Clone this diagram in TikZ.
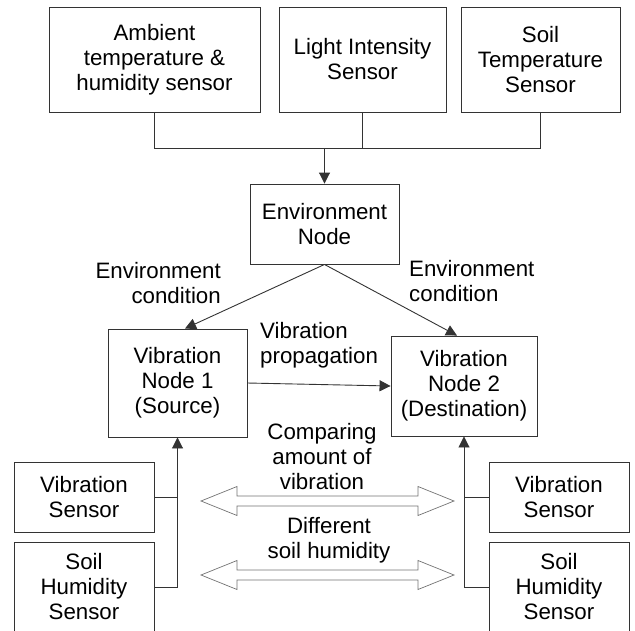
\documentclass[tikz,border=0pt]{standalone}
\usepackage{fontspec}
\setmainfont{Liberation Sans}
\usetikzlibrary{arrows.meta,calc}
\begin{document}
\begin{tikzpicture}[x=1pt,y=-1pt,
  txt/.style={font=\fontsize{22.3}{25}\selectfont},
  box/.style={txt,draw=black!80,line width=0.9pt,align=center,inner sep=0pt},
  lbl/.style={txt,inner sep=0pt},
  conn/.style={draw=black!80,line width=0.9pt},
  arr/.style={conn,-{Triangle[length=11pt,width=11pt]}},
  dbl/.style={draw=black!55,line width=0.7pt,fill=white}]
\useasboundingbox (0,0) rectangle (635,630);
% top sensors
\node[box,minimum width=211pt,minimum height=105pt] (A) at (154.5,59.5) {Ambient\\temperature \&\\humidity sensor};
\node[box,minimum width=167pt,minimum height=105pt] (L) at (362.5,59.5) {Light Intensity\\Sensor};
\node[box,minimum width=159pt,minimum height=105pt] (S) at (540.5,59.5) {Soil\\Temperature\\Sensor};
% environment node
\node[box,minimum width=149pt,minimum height=80pt] (E) at (324.5,224) {Environment\\Node};
% vibration nodes
\node[box,minimum width=139pt,minimum height=108pt] (V1) at (177.5,383) {Vibration\\Node 1\\(Source)};
\node[box,minimum width=146pt,minimum height=100pt] (V2) at (464,386) {Vibration\\Node 2\\(Destination)};
% bottom sensors
\node[box,minimum width=140pt,minimum height=70pt] (VS1) at (84,497) {Vibration\\Sensor};
\node[box,minimum width=140pt,minimum height=90pt] (SH1) at (84,587) {Soil\\Humidity\\Sensor};
\node[box,minimum width=140pt,minimum height=70pt] (VS2) at (559,497) {Vibration\\Sensor};
\node[box,minimum width=140pt,minimum height=90pt] (SH2) at (559,587) {Soil\\Humidity\\Sensor};
% top connectors
\coordinate (j) at (324.5,148);
\draw[conn] (A.south) -- (A.south |- j) -- (S.south |- j) -- (S.south);
\draw[conn] (L.south) -- (L.south |- j);
\draw[arr] (j) -- (E.north);
% environment to vibration nodes
\draw[arr] (E.south) -- ([xshift=7.5pt]V1.north);
\draw[arr] (E.south) -- ([xshift=-7pt]V2.north);
\draw[arr] (V1.east) -- (V2.west);
% bottom connectors
\draw[arr] (SH1.east) -| (V1.south);
\draw[conn] (VS1.east) -- (VS1.east -| V1.south);
\draw[arr] (SH2.west) -| (V2.south);
\draw[conn] (VS2.west) -- (VS2.west -| V2.south);
% double arrows
\foreach \c in {501,575}{
  \draw[dbl] (201,\c) -- (237,\c-14.5) -- (237,\c-5) -- (418,\c-5) -- (418,\c-14.5)
    -- (454,\c) -- (418,\c+14.5) -- (418,\c+5) -- (237,\c+5) -- (237,\c+14.5) -- cycle;
}
% labels
\node[lbl,align=right,anchor=east] (lc1) at (221,282.6) {Environment\\condition};
\node[lbl,align=left,anchor=west] (lc2) at (409,280.6) {Environment\\condition};
\node[lbl,align=left,anchor=west] (lp) at (260,344.8) {Vibration\\propagation};
\node[lbl,align=center] (lcmp) at (322,457) {Comparing\\amount of\\vibration};
\node[lbl,align=center] (ldiff) at (329,540) {Different\\soil humidity};
\end{tikzpicture}
\end{document}
